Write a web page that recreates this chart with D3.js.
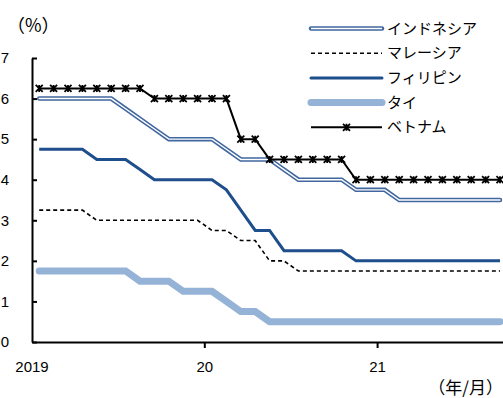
<!DOCTYPE html>
<html>
<head>
<meta charset="utf-8">
<script src="https://cdn.jsdelivr.net/npm/d3@7"></script>
<style>
  html, body { margin: 0; padding: 0; background: #fff; }
  svg { display: block; font-family: "Liberation Sans", "Noto Sans CJK JP", sans-serif; }
</style>
</head>
<body>
<svg id="chart" width="503" height="398"></svg>
<script>
// Policy rates, month-end, Jan 2019 – Sep 2021 (%)
const months = d3.range(33).map(i => {
  const yr = 2019 + Math.floor(i / 12), m = (i % 12) + 1;
  return `${yr}/${m}`;
});
const indonesia = [6.0,6.0,6.0,6.0,6.0,6.0,5.75,5.5,5.25,5.0,5.0,5.0,
                   5.0,4.75,4.5,4.5,4.5,4.25,4.0,4.0,4.0,4.0,3.75,3.75,
                   3.75,3.5,3.5,3.5,3.5,3.5,3.5,3.5,3.5];
const malaysia  = [3.25,3.25,3.25,3.25,3.0,3.0,3.0,3.0,3.0,3.0,3.0,3.0,
                   2.75,2.75,2.5,2.5,2.0,2.0,1.75,1.75,1.75,1.75,1.75,1.75,
                   1.75,1.75,1.75,1.75,1.75,1.75,1.75,1.75,1.75];
const philippines = [4.75,4.75,4.75,4.75,4.5,4.5,4.5,4.25,4.0,4.0,4.0,4.0,
                     4.0,3.75,3.25,2.75,2.75,2.25,2.25,2.25,2.25,2.25,2.0,2.0,
                     2.0,2.0,2.0,2.0,2.0,2.0,2.0,2.0,2.0];
const thailand  = [1.75,1.75,1.75,1.75,1.75,1.75,1.75,1.5,1.5,1.5,1.25,1.25,
                   1.25,1.0,0.75,0.75,0.5,0.5,0.5,0.5,0.5,0.5,0.5,0.5,
                   0.5,0.5,0.5,0.5,0.5,0.5,0.5,0.5,0.5];
const vietnam   = [6.25,6.25,6.25,6.25,6.25,6.25,6.25,6.25,6.0,6.0,6.0,6.0,
                   6.0,6.0,5.0,5.0,4.5,4.5,4.5,4.5,4.5,4.5,4.0,4.0,
                   4.0,4.0,4.0,4.0,4.0,4.0,4.0,4.0,4.0];
const seriesNames = ["インドネシア", "マレーシア", "フィリピン", "タイ", "ベトナム"];
const yTicks = [0, 1, 2, 3, 4, 5, 6, 7];
const yearLabels = ["2019", "20", "21"];

const svg = d3.select("#chart");
const plotLeft = 32, plotBottom = 342, plotTop = 58;
const monthW = 14.4;

const x = d3.scaleBand().domain(months).range([plotLeft, plotLeft + months.length * monthW]).padding(0);
const cx = m => x(m) + x.bandwidth() / 2;
const y = d3.scaleLinear().domain([0, 7]).range([plotBottom, plotTop]);

// y axis
const yAxis = d3.axisLeft(y).tickValues(yTicks).tickFormat(d3.format("d"))
  .tickSize(-5).tickSizeOuter(0).tickPadding(0);
const gy = svg.append("g").attr("transform", `translate(${plotLeft},0)`).call(yAxis);
gy.select(".domain").attr("stroke", "#000").attr("stroke-width", 2);
gy.selectAll(".tick line").attr("stroke", "#000").attr("stroke-width", 2);
gy.selectAll(".tick text").attr("x", -23).attr("text-anchor", "end")
  .attr("font-size", 15).attr("fill", "#000");

// x axis: ticks at the start of each year
const yearStarts = months.filter((m, i) => i % 12 === 0);
const xAxis = d3.axisBottom(x).tickValues(yearStarts).tickSize(6).tickSizeOuter(0)
  .tickFormat((d, i) => yearLabels[i]);
const gx = svg.append("g").attr("transform", `translate(0,${plotBottom})`).call(xAxis);
gx.select(".domain").attr("stroke", "#000").attr("stroke-width", 2);
gx.selectAll(".tick").attr("transform", d => `translate(${x(d)},0)`);
gx.selectAll(".tick line").attr("stroke", "#000").attr("stroke-width", 2);
gx.selectAll(".tick text").attr("y", 19).attr("font-size", 15).attr("fill", "#000");
gx.selectAll(".tick").filter((d, i) => i === 0).select("line").remove();

const line = vals => d3.line().x((d, i) => cx(months[i])).y(d => y(d))(vals);

// Thailand: wide light blue
svg.append("path").attr("d", line(thailand)).attr("fill", "none")
  .attr("stroke", "#95b3d7").attr("stroke-width", 7).attr("stroke-linecap", "round");
// Malaysia: dashed black
svg.append("path").attr("d", line(malaysia)).attr("fill", "none")
  .attr("stroke", "#000").attr("stroke-width", 1.6).attr("stroke-dasharray", "4,3");
// Philippines: dark blue
svg.append("path").attr("d", line(philippines)).attr("fill", "none")
  .attr("stroke", "#1f4e8c").attr("stroke-width", 3);
// Indonesia: double line (blue outline, white core)
svg.append("path").attr("d", line(indonesia)).attr("fill", "none")
  .attr("stroke", "#41679f").attr("stroke-width", 4.5).attr("stroke-linecap", "round");
svg.append("path").attr("d", line(indonesia)).attr("fill", "none")
  .attr("stroke", "#fff").attr("stroke-width", 1.4).attr("stroke-linecap", "round");
// Vietnam: black with star markers
svg.append("path").attr("d", line(vietnam)).attr("fill", "none")
  .attr("stroke", "#000").attr("stroke-width", 2);

function star(g, px, py) {
  const s = 3.5;
  g.append("path")
    .attr("d", `M${px - s},${py - s}L${px + s},${py + s}M${px - s},${py + s}L${px + s},${py - s}M${px},${py - s}L${px},${py + s}`)
    .attr("stroke", "#000").attr("stroke-width", 1.8).attr("fill", "none");
}
const markers = svg.append("g");
vietnam.forEach((v, i) => star(markers, cx(months[i]), y(v)));

// unit labels
svg.append("text").attr("x", 7).attr("y", 32).attr("font-size", 18).text("（%）")
  .attr("font-family", "Noto Sans CJK JP");
svg.append("text").attr("x", 503).attr("y", 394).attr("text-anchor", "end")
  .attr("font-size", 17).attr("font-family", "Noto Sans CJK JP").text("（年/月）");

// legend
const lg = svg.append("g");
const lx0 = 311, lx1 = 382, ly0 = 28.5, ldy = 24.7;
seriesNames.forEach((name, i) => {
  const ly = ly0 + i * ldy;
  if (i === 0) {
    lg.append("line").attr("x1", lx0).attr("x2", lx1).attr("y1", ly).attr("y2", ly)
      .attr("stroke", "#41679f").attr("stroke-width", 4.5).attr("stroke-linecap", "round");
    lg.append("line").attr("x1", lx0).attr("x2", lx1).attr("y1", ly).attr("y2", ly)
      .attr("stroke", "#fff").attr("stroke-width", 1.4);
  } else if (i === 1) {
    lg.append("line").attr("x1", lx0).attr("x2", lx1).attr("y1", ly).attr("y2", ly)
      .attr("stroke", "#000").attr("stroke-width", 1.6).attr("stroke-dasharray", "4,3");
  } else if (i === 2) {
    lg.append("line").attr("x1", lx0).attr("x2", lx1).attr("y1", ly).attr("y2", ly)
      .attr("stroke", "#1f4e8c").attr("stroke-width", 3).attr("stroke-linecap", "round");
  } else if (i === 3) {
    lg.append("line").attr("x1", lx0).attr("x2", lx1).attr("y1", ly).attr("y2", ly)
      .attr("stroke", "#95b3d7").attr("stroke-width", 7).attr("stroke-linecap", "round");
  } else {
    lg.append("line").attr("x1", lx0).attr("x2", lx1).attr("y1", ly).attr("y2", ly)
      .attr("stroke", "#000").attr("stroke-width", 2);
    star(lg, (lx0 + lx1) / 2, ly);
  }
  lg.append("text").attr("x", lx1 + 5).attr("y", ly + 5).attr("font-size", 15)
    .attr("font-family", "Noto Sans CJK JP").text(name);
});
</script>
</body>
</html>
